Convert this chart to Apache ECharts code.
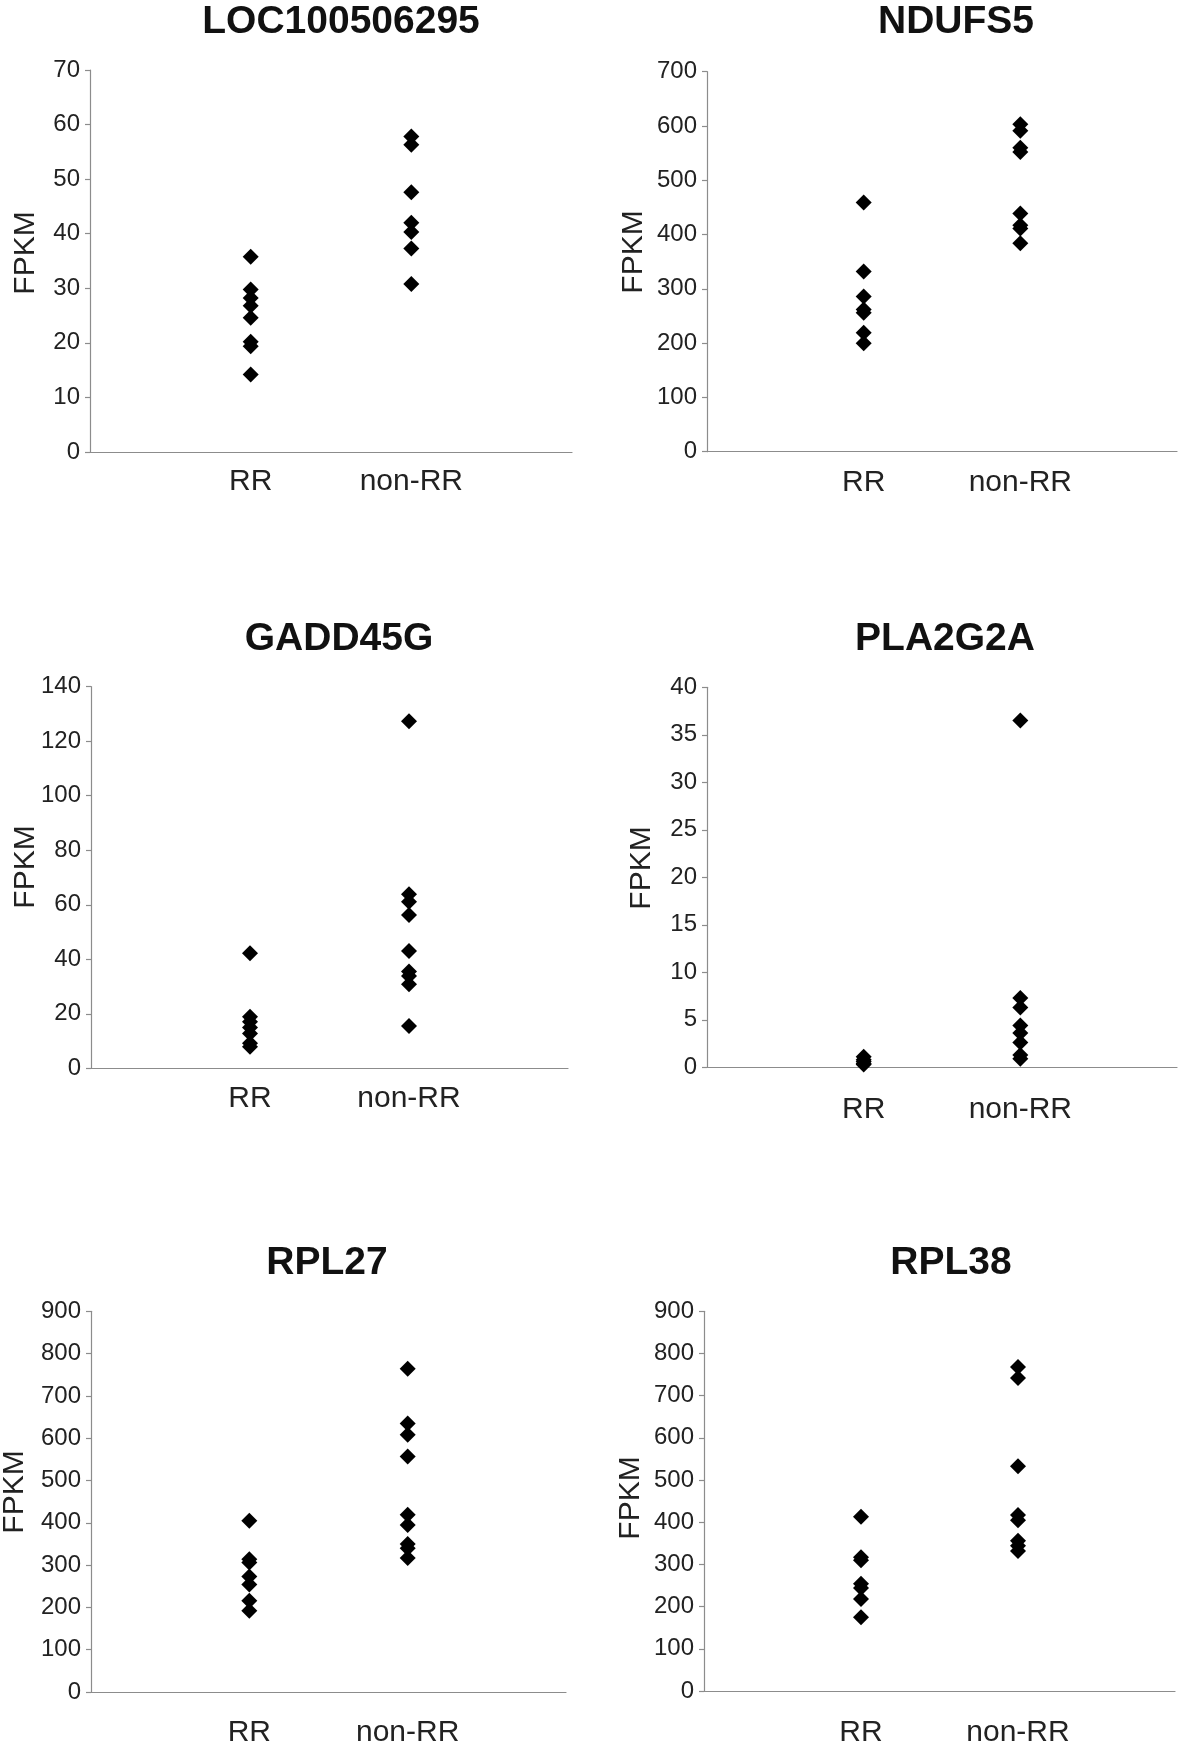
<!DOCTYPE html>
<html>
<head>
<meta charset="utf-8">
<script src="https://cdn.jsdelivr.net/npm/echarts@6/dist/echarts.min.js"></script>
<style>
html,body{margin:0;padding:0;background:#fff;}
#c{width:1181px;height:1748px;}
</style>
</head>
<body>
<div id="c"></div>
<script>
const categories = ['RR', 'non-RR'];
const titles = ['LOC100506295', 'NDUFS5', 'GADD45G', 'PLA2G2A', 'RPL27', 'RPL38'];
const yMax = [70, 700, 140, 40, 900, 900];
const yStep = [10, 100, 20, 5, 100, 100];

const loc_RR = [35.8, 29.8, 28.2, 26.8, 24.6, 20.2, 19.4, 14.2];
const loc_nonRR = [57.8, 56.3, 47.6, 42.0, 40.3, 37.3, 30.8];
const ndufs5_RR = [459, 332, 286, 262, 256, 219, 200];
const ndufs5_nonRR = [603, 591, 560, 552, 439, 417, 411, 384];
const gadd45g_RR = [42.2, 18.9, 17.1, 15.0, 12.8, 9.2, 7.9];
const gadd45g_nonRR = [127.3, 63.9, 61.1, 56.2, 43.0, 35.5, 33.9, 30.8, 15.5];
const pla2g2a_RR = [1.1, 0.8, 0.6, 0.4, 0.3];
const pla2g2a_nonRR = [36.5, 7.3, 6.3, 4.4, 3.6, 2.6, 1.3, 0.9];
const rpl27_RR = [405, 314, 306, 273, 254, 216, 192];
const rpl27_nonRR = [764, 635, 608, 557, 419, 395, 350, 340, 317];
const rpl38_RR = [413, 317, 310, 254, 244, 218, 175];
const rpl38_nonRR = [768, 742, 533, 417, 405, 356, 344, 332];

const groupsRR = [loc_RR, ndufs5_RR, gadd45g_RR, pla2g2a_RR, rpl27_RR, rpl38_RR];
const groupsNon = [loc_nonRR, ndufs5_nonRR, gadd45g_nonRR, pla2g2a_nonRR, rpl27_nonRR, rpl38_nonRR];

// layout (pixels)
const grids = [
  {left: 90, top: 70, width: 482, height: 382},
  {left: 707, top: 71.7, width: 470, height: 380},
  {left: 91, top: 686.7, width: 477, height: 381.6},
  {left: 707, top: 687.3, width: 470, height: 380},
  {left: 91, top: 1311.3, width: 475, height: 381},
  {left: 704, top: 1311.3, width: 471, height: 381}
];
const xLabelMargin = [15, 16, 15, 27, 26, 27];
const titlePos = [[341, 22], [956, 22], [339, 639], [945, 639], [327, 1263], [951, 1263]];
const fpkmPos = [[25.5, 253], [634, 252], [25.5, 867], [642, 868], [14.5, 1492], [631, 1498]];

const FONT = 'Liberation Sans, Arial, sans-serif';
const chart = echarts.init(document.getElementById('c'), null, {renderer: 'canvas'});

const option = {
  backgroundColor: '#fff',
  animation: false,
  grid: grids.map(g => Object.assign({containLabel: false}, g)),
  xAxis: grids.map((g, i) => ({
    gridIndex: i, type: 'value', min: 0, max: 3, interval: 1,
    axisLine: {show: true, lineStyle: {color: '#8c8c8c', width: 1.2}},
    axisTick: {show: false},
    splitLine: {show: false},
    axisLabel: {
      margin: xLabelMargin[i], fontSize: 30, color: '#222', fontFamily: FONT,
      formatter: v => (v >= 1 && v <= 2 && Number.isInteger(v)) ? categories[v - 1] : ''
    }
  })),
  yAxis: grids.map((g, i) => ({
    gridIndex: i, type: 'value', min: 0, max: yMax[i], interval: yStep[i],
    axisLine: {show: true, lineStyle: {color: '#8c8c8c', width: 1.2}},
    axisTick: {show: true, length: 5, lineStyle: {color: '#8c8c8c', width: 1.2}},
    splitLine: {show: false},
    axisLabel: {margin: 10, fontSize: 24, color: '#222', fontFamily: FONT}
  })),
  graphic: [],
  series: []
};

for (let i = 0; i < 6; i++) {
  option.series.push({
    type: 'scatter', xAxisIndex: i, yAxisIndex: i,
    symbol: 'diamond', symbolSize: 16,
    itemStyle: {color: '#000', opacity: 1},
    data: groupsRR[i].map(v => [1, v]).concat(groupsNon[i].map(v => [2, v]))
  });
  option.graphic.push({
    type: 'text', x: titlePos[i][0], y: titlePos[i][1],
    style: {text: titles[i], font: 'bold 39px ' + FONT, fill: '#111', textAlign: 'center', textVerticalAlign: 'middle'}
  });
  option.graphic.push({
    type: 'text', x: fpkmPos[i][0], y: fpkmPos[i][1], rotation: Math.PI / 2,
    style: {text: 'FPKM', font: '30px ' + FONT, fill: '#222', textAlign: 'center', textVerticalAlign: 'middle'}
  });
}

chart.setOption(option);
</script>
</body>
</html>
